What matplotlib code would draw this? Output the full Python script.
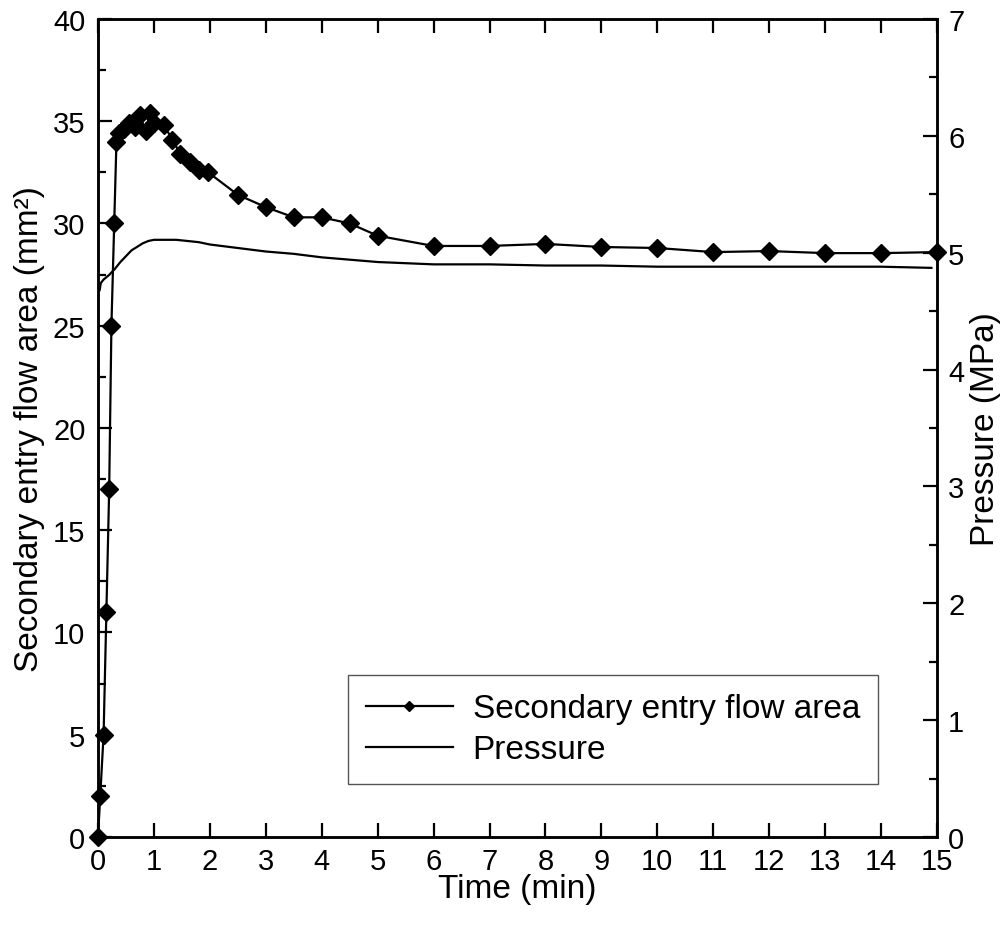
import numpy as np
import matplotlib
matplotlib.use("Agg")
import matplotlib.pyplot as plt
from matplotlib.ticker import MultipleLocator

plt.rcParams['font.family'] = ['Liberation Sans', 'DejaVu Sans']

# secondary entry flow area (mm^2) vs time (min)
t_area = [0, 0.04, 0.1, 0.15, 0.2, 0.24, 0.29, 0.33, 0.38, 0.46, 0.56, 0.66, 0.75,
          0.85, 0.93, 1.0, 1.18, 1.33, 1.47, 1.65, 1.8, 1.97, 2.5, 3, 3.5, 4, 4.5,
          5, 6, 7, 8, 9, 10, 11, 12, 13, 14, 15]
area = [0, 2, 5, 11, 17, 25, 30, 34, 34.4, 34.6, 34.9, 34.7, 35.3,
        34.5, 35.4, 34.9, 34.8, 34.1, 33.4, 33.0, 32.6, 32.5, 31.4, 30.8, 30.3, 30.3, 30.0,
        29.4, 28.9, 28.9, 29.0, 28.85, 28.8, 28.6, 28.65, 28.55, 28.55, 28.6]

# pressure (MPa) vs time (min)
t_press = [0.03, 0.05, 0.1, 0.15, 0.2, 0.3, 0.4, 0.5, 0.6, 0.7, 0.8, 0.9, 1.0, 1.2,
           1.4, 1.6, 1.8, 2.0, 2.5, 3.0, 3.5, 4.0, 4.5, 5.0, 5.5, 6, 7, 8, 9, 10,
           11, 12, 13, 14, 14.9]
press = [4.68, 4.74, 4.77, 4.79, 4.81, 4.86, 4.92, 4.97, 5.02, 5.05, 5.08, 5.10, 5.11, 5.11,
         5.11, 5.10, 5.09, 5.07, 5.04, 5.01, 4.99, 4.96, 4.94, 4.92, 4.91, 4.90, 4.90, 4.89, 4.89, 4.88,
         4.88, 4.88, 4.88, 4.88, 4.87]

fig = plt.figure(figsize=(10.03, 9.28), dpi=100)
ax = fig.add_axes([0.0977, 0.097, 0.8365, 0.8815])
ax2 = ax.twinx()

l1, = ax.plot(t_area, area, color='k', lw=1.6, marker='D', ms=9.5, clip_on=False, zorder=5,
              label='Secondary entry flow area')
l2, = ax2.plot(t_press, press, color='k', lw=1.6, label='Pressure')

ax.set_xlim(0, 15)
ax.set_ylim(0, 40)
ax2.set_ylim(0, 7)
ax.xaxis.set_major_locator(MultipleLocator(1))
ax.yaxis.set_major_locator(MultipleLocator(5))
ax.yaxis.set_minor_locator(MultipleLocator(2.5))
ax2.yaxis.set_major_locator(MultipleLocator(1))
ax2.yaxis.set_minor_locator(MultipleLocator(0.5))

for a in (ax, ax2):
    for s in a.spines.values():
        s.set_linewidth(1.8)
ax.tick_params(axis='x', which='major', direction='in', top=True, length=10, width=1.6,
               labelsize=21, pad=7)
ax.tick_params(axis='y', which='major', direction='in', length=10, width=1.6, labelsize=21, pad=9)
ax.tick_params(axis='y', which='minor', direction='in', length=6, width=1.6)
ax2.tick_params(axis='y', which='major', direction='in', length=10, width=1.6, labelsize=21, pad=8)
ax2.tick_params(axis='y', which='minor', direction='in', length=6, width=1.6)

ax.set_xlabel('Time (min)', fontsize=24, labelpad=-1)
ax.set_ylabel('Secondary entry flow area (mm²)', fontsize=24, labelpad=6)
ax2.set_ylabel('Pressure (MPa)', fontsize=24, labelpad=4)

leg = ax.legend([l1, l2], ['Secondary entry flow area', 'Pressure'], loc='lower right',
                bbox_to_anchor=(0.93, 0.065), borderaxespad=0, fontsize=24, fancybox=False,
                framealpha=1, edgecolor='#555555', handlelength=2.6, markerscale=0.55,
                borderpad=0.55, labelspacing=0.3, handletextpad=0.6)
leg.get_frame().set_linewidth(1.0)

fig.savefig('out.png', dpi=100)
